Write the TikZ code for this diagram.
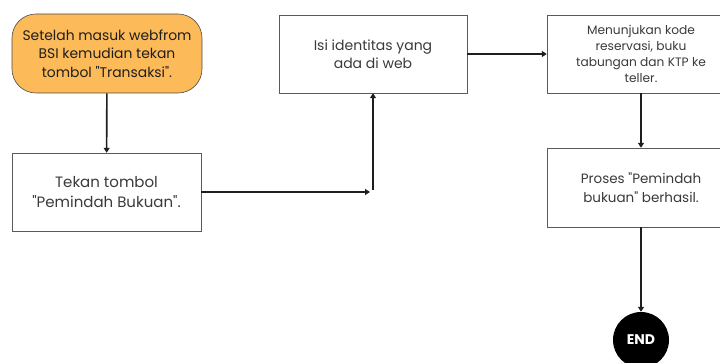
\documentclass[tikz,border=0pt]{standalone}
\usepackage{fontspec}
\setmainfont{Poppins}
\usepackage{tikz}
\usetikzlibrary{arrows.meta,positioning,shapes.geometric}
\definecolor{fcorange}{HTML}{FCBA58}
\definecolor{fcink}{HTML}{1E1E1E}
\definecolor{fcsec}{HTML}{3A3A3A}
\definecolor{fcedge}{HTML}{5A5A5A}
\newcommand{\qd}{\textquotedbl}
\tikzset{
  startbox/.style={draw=fcink!80,semithick,fill=fcorange,rounded corners=24pt,
              minimum width=190pt,minimum height=79pt,align=center,
              font=\fontsize{13.9}{18.5}\selectfont,text=fcink},
  procbox/.style={draw=fcedge,thin,fill=white,
              minimum width=189pt,minimum height=78pt,align=center,text=fcsec},
  endnode/.style={circle,fill=black,minimum size=56pt,inner sep=0pt,
              font=\bfseries\fontsize{14}{16}\selectfont,text=white},
  flow/.style={-{Triangle[length=5pt,width=6pt]},line width=1.6pt,draw=fcink},
}

\begin{document}
\begin{tikzpicture}[x=1pt,y=1pt]
  \useasboundingbox (0,0) rectangle (720,363);
  \node[startbox] (masuk) at (107,309.5)
    {Setelah masuk webfrom\\BSI kemudian tekan\\tombol \qd Transaksi\qd.};
  \node[procbox,font=\fontsize{15}{20}\selectfont] (tekan) at (106.5,171)
    {Tekan tombol\\\qd Pemindah Bukuan\qd.};
  \node[procbox,minimum width=188pt,font=\fontsize{14}{18.5}\selectfont] (isi) at (373,309)
    {Isi identitas yang\\ada di web};
  \node[procbox,minimum width=188pt,font=\fontsize{12.2}{16}\selectfont] (tunjuk) at (641,309)
    {Menunjukan kode\\reservasi, buku\\tabungan dan KTP ke\\teller.};
  \node[procbox,minimum width=188pt,minimum height=79pt,font=\fontsize{13.5}{19.5}\selectfont] (proses) at (641,175.5)
    {Proses \qd Pemindah\\bukuan\qd{} berhasil.};
  \node[endnode] (selesai) at (641,23) {END};
  \coordinate (belok) at (373,171);

  \draw[flow] (masuk) -- (tekan);
  \draw[flow] (tekan) -- ([xshift=-3pt]belok);
  \draw[flow] ([yshift=2pt]belok) -- (isi);
  \draw[flow] (isi) -- (tunjuk);
  \draw[flow] (tunjuk) -- (proses);
  \draw[flow] (proses) -- (selesai);
\end{tikzpicture}
\end{document}
